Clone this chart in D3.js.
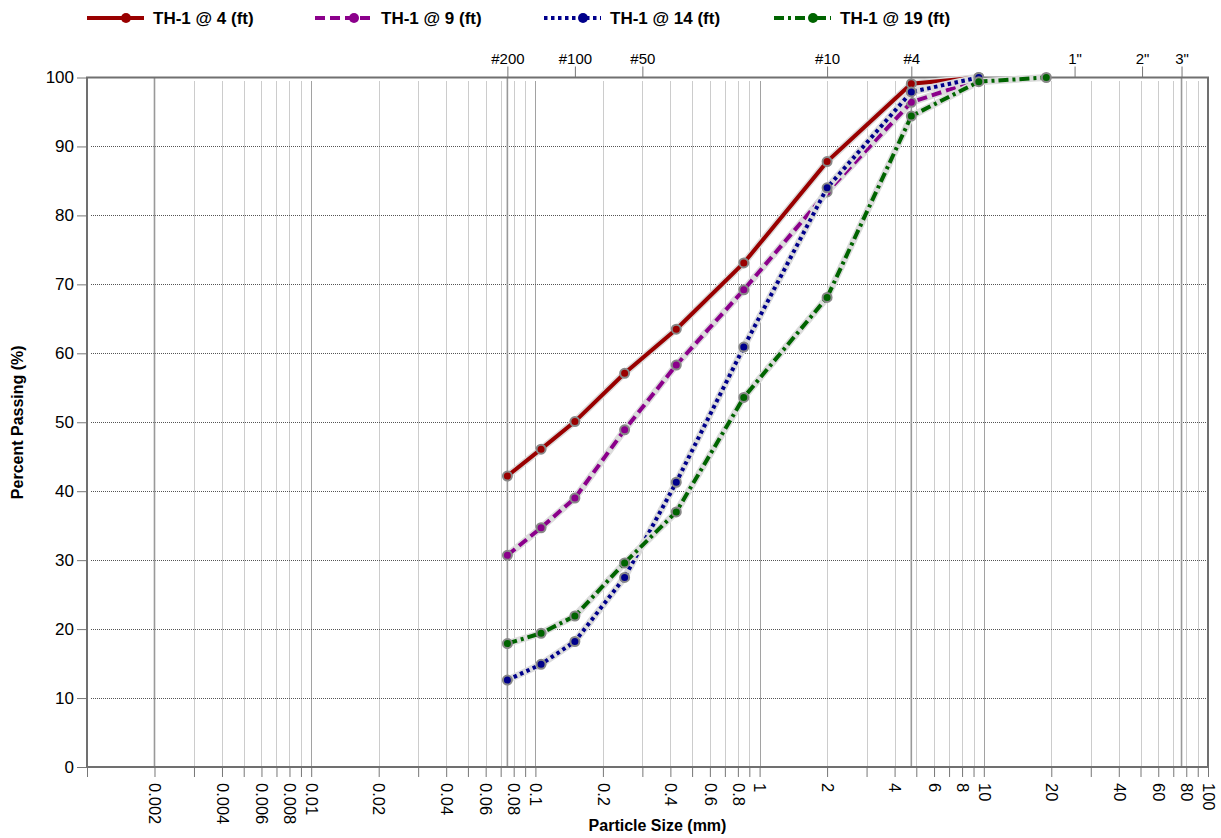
<!DOCTYPE html>
<html><head><meta charset="utf-8">
<script src="https://cdn.jsdelivr.net/npm/d3@7"></script>
<style>
body{margin:0;background:#fff;}
svg text{font-family:"Liberation Sans",Arial,sans-serif;fill:#000;}
</style></head><body>
<svg id="c" width="1221" height="838"></svg>
<script>
// ---------- data ----------
const sieveSizes = [0.075, 0.106, 0.15, 0.25, 0.425, 0.85, 2.0, 4.75, 9.5, 19.0];
const seriesNames = ["TH-1 @ 4 (ft)", "TH-1 @ 9 (ft)", "TH-1 @ 14 (ft)", "TH-1 @ 19 (ft)"];
const th4  = [42.2, 46.1, 50.1, 57.1, 63.5, 73.1, 87.8, 99.1, 100];
const th9  = [30.7, 34.7, 39.0, 48.9, 58.3, 69.2, 83.4, 96.4, 99.7];
const th14 = [12.6, 14.9, 18.2, 27.5, 41.3, 60.9, 84.0, 97.9, 100];
const th19 = [17.9, 19.4, 21.9, 29.6, 37.0, 53.6, 68.1, 94.4, 99.4, 100];
const yTicks = [0, 10, 20, 30, 40, 50, 60, 70, 80, 90, 100];
const xLabelValues = [0.002, 0.004, 0.006, 0.008, 0.01, 0.02, 0.04, 0.06, 0.08, 0.1, 0.2, 0.4, 0.6, 0.8, 1, 2, 4, 6, 8, 10, 20, 40, 60, 80, 100];
const xLabelTexts  = ["0.002","0.004","0.006","0.008","0.01","0.02","0.04","0.06","0.08","0.1","0.2","0.4","0.6","0.8","1","2","4","6","8","10","20","40","60","80","100"];
const topSieveSizes  = [0.075, 0.15, 0.3, 2.0, 4.75, 25.4, 50.8, 76.2];
const topSieveLabels = ["#200", "#100", "#50", "#10", "#4", "1\"", "2\"", "3\""];
const boundarySizes = [0.002, 0.075, 4.75, 76.2];

// ---------- styles / layout ----------
const styles = [
  {color:"#990000", dash:null},
  {color:"#8B008B", dash:"10,5"},
  {color:"#00008B", dash:"3.5,3.5"},
  {color:"#006400", dash:"10,4,3,4"}
];
const legendX = [87, 315, 544, 774];
const W = 1221, H = 838;
const L = 87, R = 1208, T = 77.5, B = 767;

const x = d3.scaleLog().domain([0.001, 100]).range([L, R]);
const y = d3.scaleLinear().domain([0, 100]).range([B, T]);
const svg = d3.select("#c");
svg.append("rect").attr("width", W).attr("height", H).attr("fill", "#fff");

// all minor tick values
const gridValues = [];
for (let e = -3; e <= 1; e++) for (let k = 1; k <= 9; k++) gridValues.push(+(k * Math.pow(10, e)).toPrecision(3));
gridValues.push(100);
const isDecade = v => Math.abs(Math.log10(v) - Math.round(Math.log10(v))) < 1e-9;

// vertical grid
svg.append("g").selectAll("line")
  .data(gridValues.filter(v => v > 0.001 && v < 100))
  .join("line")
  .attr("x1", d => Math.round(x(d)) + 0.5).attr("x2", d => Math.round(x(d)) + 0.5)
  .attr("y1", T + 4).attr("y2", B)
  .attr("stroke", d => isDecade(d) ? "#444" : "#999")
  .attr("stroke-width", 1)
  .attr("stroke-dasharray", "1,1");

// horizontal grid
svg.append("g").selectAll("line")
  .data(yTicks.filter(v => v > 0 && v < 100))
  .join("line")
  .attr("x1", L + 4).attr("x2", R)
  .attr("y1", d => Math.round(y(d)) + 0.5).attr("y2", d => Math.round(y(d)) + 0.5)
  .attr("stroke", "#555").attr("stroke-width", 1).attr("stroke-dasharray", "1,1");

// soil boundary lines
svg.append("g").selectAll("line")
  .data(boundarySizes)
  .join("line")
  .attr("x1", d => x(d)).attr("x2", d => x(d))
  .attr("y1", T).attr("y2", B)
  .attr("stroke", "#999").attr("stroke-width", 1.6);

// bottom axis
const labelMap = new Map(xLabelValues.map((v, i) => [v, xLabelTexts[i]]));
const gx = svg.append("g").attr("transform", `translate(0,${B})`)
  .call(d3.axisBottom(x).tickValues(gridValues).tickFormat(d => labelMap.get(d) || "").tickSize(10).tickSizeOuter(0));
gx.select(".domain").remove();
gx.selectAll(".tick line").attr("stroke", "#777");
gx.selectAll(".tick text")
  .attr("x", 16).attr("y", 0).attr("dy", "0.35em")
  .attr("transform", "rotate(90)")
  .style("text-anchor", "start")
  .style("font-size", "16.5px");

// left axis
const gy = svg.append("g").attr("transform", `translate(${L},0)`)
  .call(d3.axisLeft(y).tickValues(yTicks).tickSize(10).tickPadding(3).tickSizeOuter(0));
gy.select(".domain").remove();
gy.selectAll(".tick line").attr("stroke", "#777");
gy.selectAll(".tick text").style("font-size", "17px");

// top sieve axis
const gt = svg.append("g").attr("transform", `translate(0,${T})`)
  .call(d3.axisTop(x).tickValues(topSieveSizes).tickFormat((d, i) => topSieveLabels[i]).tickSize(11).tickPadding(3).tickSizeOuter(0));
gt.select(".domain").remove();
gt.selectAll(".tick line").attr("stroke", "#777");
gt.selectAll(".tick text").style("font-size", "15px");

// plot border
svg.append("rect").attr("x", L).attr("y", T).attr("width", R - L).attr("height", B - T)
  .attr("fill", "none").attr("stroke", "#707070").attr("stroke-width", 2);

// series
const allSeries = [th4, th9, th14, th19];
const line = d3.line().x(d => x(d[0])).y(d => y(d[1]));
allSeries.forEach((vals, i) => {
  const pts = vals.map((v, j) => [sieveSizes[j], v]);
  const g = svg.append("g");
  g.append("path").attr("d", line(pts)).attr("fill", "none")
    .attr("stroke", "#dcdcdc").attr("stroke-width", 7).attr("stroke-linejoin", "round");
  g.append("path").attr("d", line(pts)).attr("fill", "none")
    .attr("stroke", styles[i].color).attr("stroke-width", 4)
    .attr("stroke-dasharray", styles[i].dash);
  g.selectAll("circle").data(pts).join("circle")
    .attr("cx", d => x(d[0])).attr("cy", d => y(d[1])).attr("r", 4.5)
    .attr("fill", styles[i].color).attr("stroke", "#888").attr("stroke-width", 2);
});

// legend
const lg = svg.append("g");
seriesNames.forEach((name, i) => {
  const x0 = legendX[i];
  lg.append("line").attr("x1", x0).attr("x2", x0 + 57).attr("y1", 18).attr("y2", 18)
    .attr("stroke", styles[i].color).attr("stroke-width", 4)
    .attr("stroke-dasharray", styles[i].dash);
  lg.append("circle").attr("cx", x0 + 39).attr("cy", 18).attr("r", 5).attr("fill", styles[i].color);
  lg.append("text").attr("x", x0 + 66).attr("y", 18).attr("dy", "0.35em")
    .style("font-size", "17px").style("font-weight", "bold").text(name);
});

// axis titles
svg.append("text").attr("x", (L + R) / 2 + 10).attr("y", 831)
  .attr("text-anchor", "middle").style("font-size", "16px").style("font-weight", "bold")
  .text("Particle Size (mm)");
svg.append("text").attr("transform", `translate(23,${(T + B) / 2}) rotate(-90)`)
  .attr("text-anchor", "middle").style("font-size", "16px").style("font-weight", "bold")
  .text("Percent Passing (%)");
</script>
</body></html>
